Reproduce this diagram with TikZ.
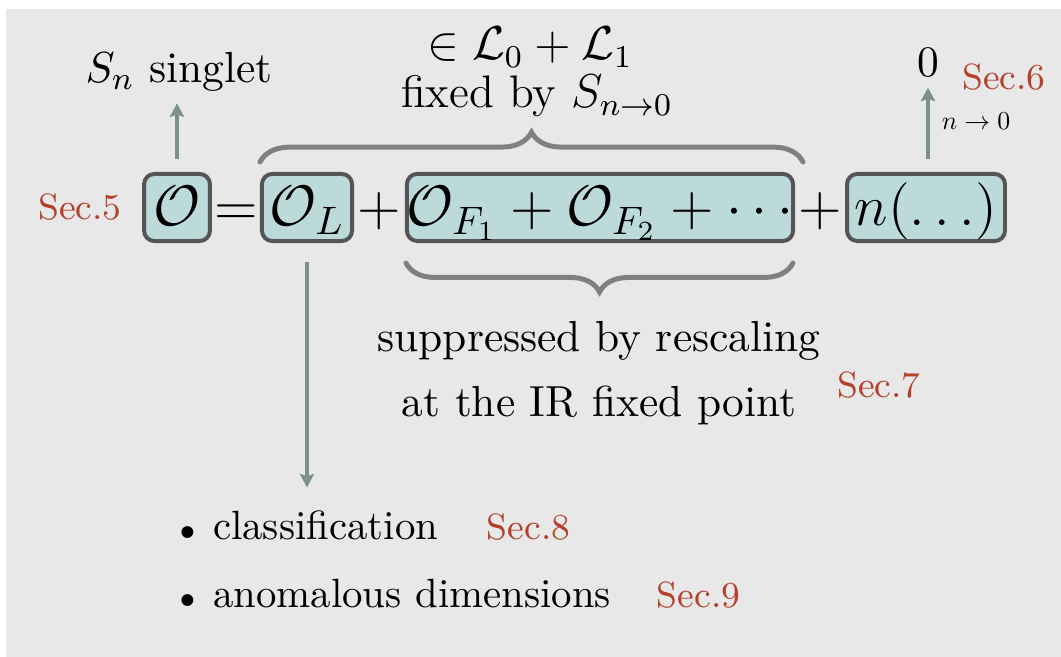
\documentclass[tikz,border=0pt,11pt]{standalone}
\usetikzlibrary{decorations.pathreplacing,arrows.meta}
\definecolor{bgc}{HTML}{E8E8E8}
\definecolor{boxf}{HTML}{BCDADA}
\definecolor{boxd}{HTML}{555555}
\definecolor{brc}{HTML}{808080}
\definecolor{arc}{HTML}{7B918E}
\definecolor{secred}{HTML}{B5402B}
\begin{document}
\begin{tikzpicture}[x=0.252pt,y=-0.252pt,
  opbox/.style={draw=boxd, fill=boxf, line width=1pt, rounded corners=2.6pt, inner sep=0pt,
    minimum height=16.9pt, text height=10pt, text depth=0.68pt, font=\Large},
  sym/.style={inner sep=0pt, anchor=base, font=\Large},
  lbl/.style={inner sep=0pt, anchor=base, font=\normalsize},
  toplbl/.style={inner sep=0pt, anchor=base, font=\fontsize{11.5}{14}\selectfont},
  listlbl/.style={inner sep=0pt, anchor=base west, font=\fontsize{10.3}{12.5}\selectfont},
  sec/.style={inner sep=0pt, anchor=base, text=secred, font=\fontsize{9.2}{11}\selectfont},
  arr/.style={draw=arc, line width=0.95pt, -{Stealth[length=3.4pt,width=3.6pt,inset=0.6pt]}},
  bracestyle/.style={draw=brc, line width=1.25pt, line cap=round, decorate}]
\useasboundingbox (0,0) rectangle (1061,657);
\fill[bgc] (6,9) rectangle (1061,657);
% main equation
\node[opbox, minimum width=16.6pt] (O) at (177,207.5) {$\mathcal{O}$};
\node[sym] (eq) at (236,226) {$=$};
\node[opbox, minimum width=22.7pt] (OL) at (307,207.5) {$\mathcal{O}_L$};
\node[sym] (p1) at (379,226) {$+$};
\node[opbox, minimum width=97.3pt] (F) at (600,207.5) {$\mathcal{O}_{F_1}+\mathcal{O}_{F_2}+\cdots$};
\node[sym] (p2) at (820,226) {$+$};
\node[opbox, minimum width=39.8pt] (N) at (926,207.5) {$n(\ldots)$};
% labels
\node[toplbl] (L01) at (530,60) {$\in\mathcal{L}_0+\mathcal{L}_1$};
\node[toplbl] (fix) at (537,108) {fixed by $S_{n\to0}$};
\node[lbl] (Sn) at (179,83) {$S_n$ singlet};
\node[lbl] (zero) at (928,77) {$0$};
\node[sec] (s6) at (1004,90) {Sec.6};
\node[inner sep=0pt, anchor=base west, font=\normalsize] (nto) at (941,130) {\scalebox{0.594}{$n\to0$}};
\node[sec] (s5) at (80,220) {Sec.5};
\node[lbl] (sup1) at (599,352) {suppressed by rescaling};
\node[lbl] (sup2) at (599,417) {at the IR fixed point};
\node[sec] (s7) at (879,398) {Sec.7};
\node[listlbl] (cls) at (178.5,540) {$\scriptstyle\bullet$\hspace{4.4pt}classification};
\node[listlbl] (anom) at (178.5,608) {$\scriptstyle\bullet$\hspace{4.4pt}anomalous dimensions};
\node[sec, anchor=base west] (s8) at (486,540) {Sec.8};
\node[sec, anchor=base west] (s9) at (656,608) {Sec.9};
% arrows
\draw[arr, shorten <=3.3pt, shorten >=2.7pt] (O.north) -- (O.north |- Sn.south);
\draw[arr, shorten <=3.3pt, shorten >=2.5pt] (zero.south |- N.north) -- (zero.south);
\draw[arr, shorten <=4.8pt, shorten >=5.8pt] (OL.south) -- (OL.south |- cls.north);
% braces
\coordinate (tb1) at (260,162);
\coordinate (tb2) at (803,162);
\draw[bracestyle, decoration={brace,amplitude=7.5pt}] (tb1) -- (tb2);
\coordinate (bb1) at (793,263);
\coordinate (bb2) at (406,263);
\draw[bracestyle, decoration={brace,amplitude=7.3pt}] (bb1) -- (bb2);
\end{tikzpicture}
\end{document}
